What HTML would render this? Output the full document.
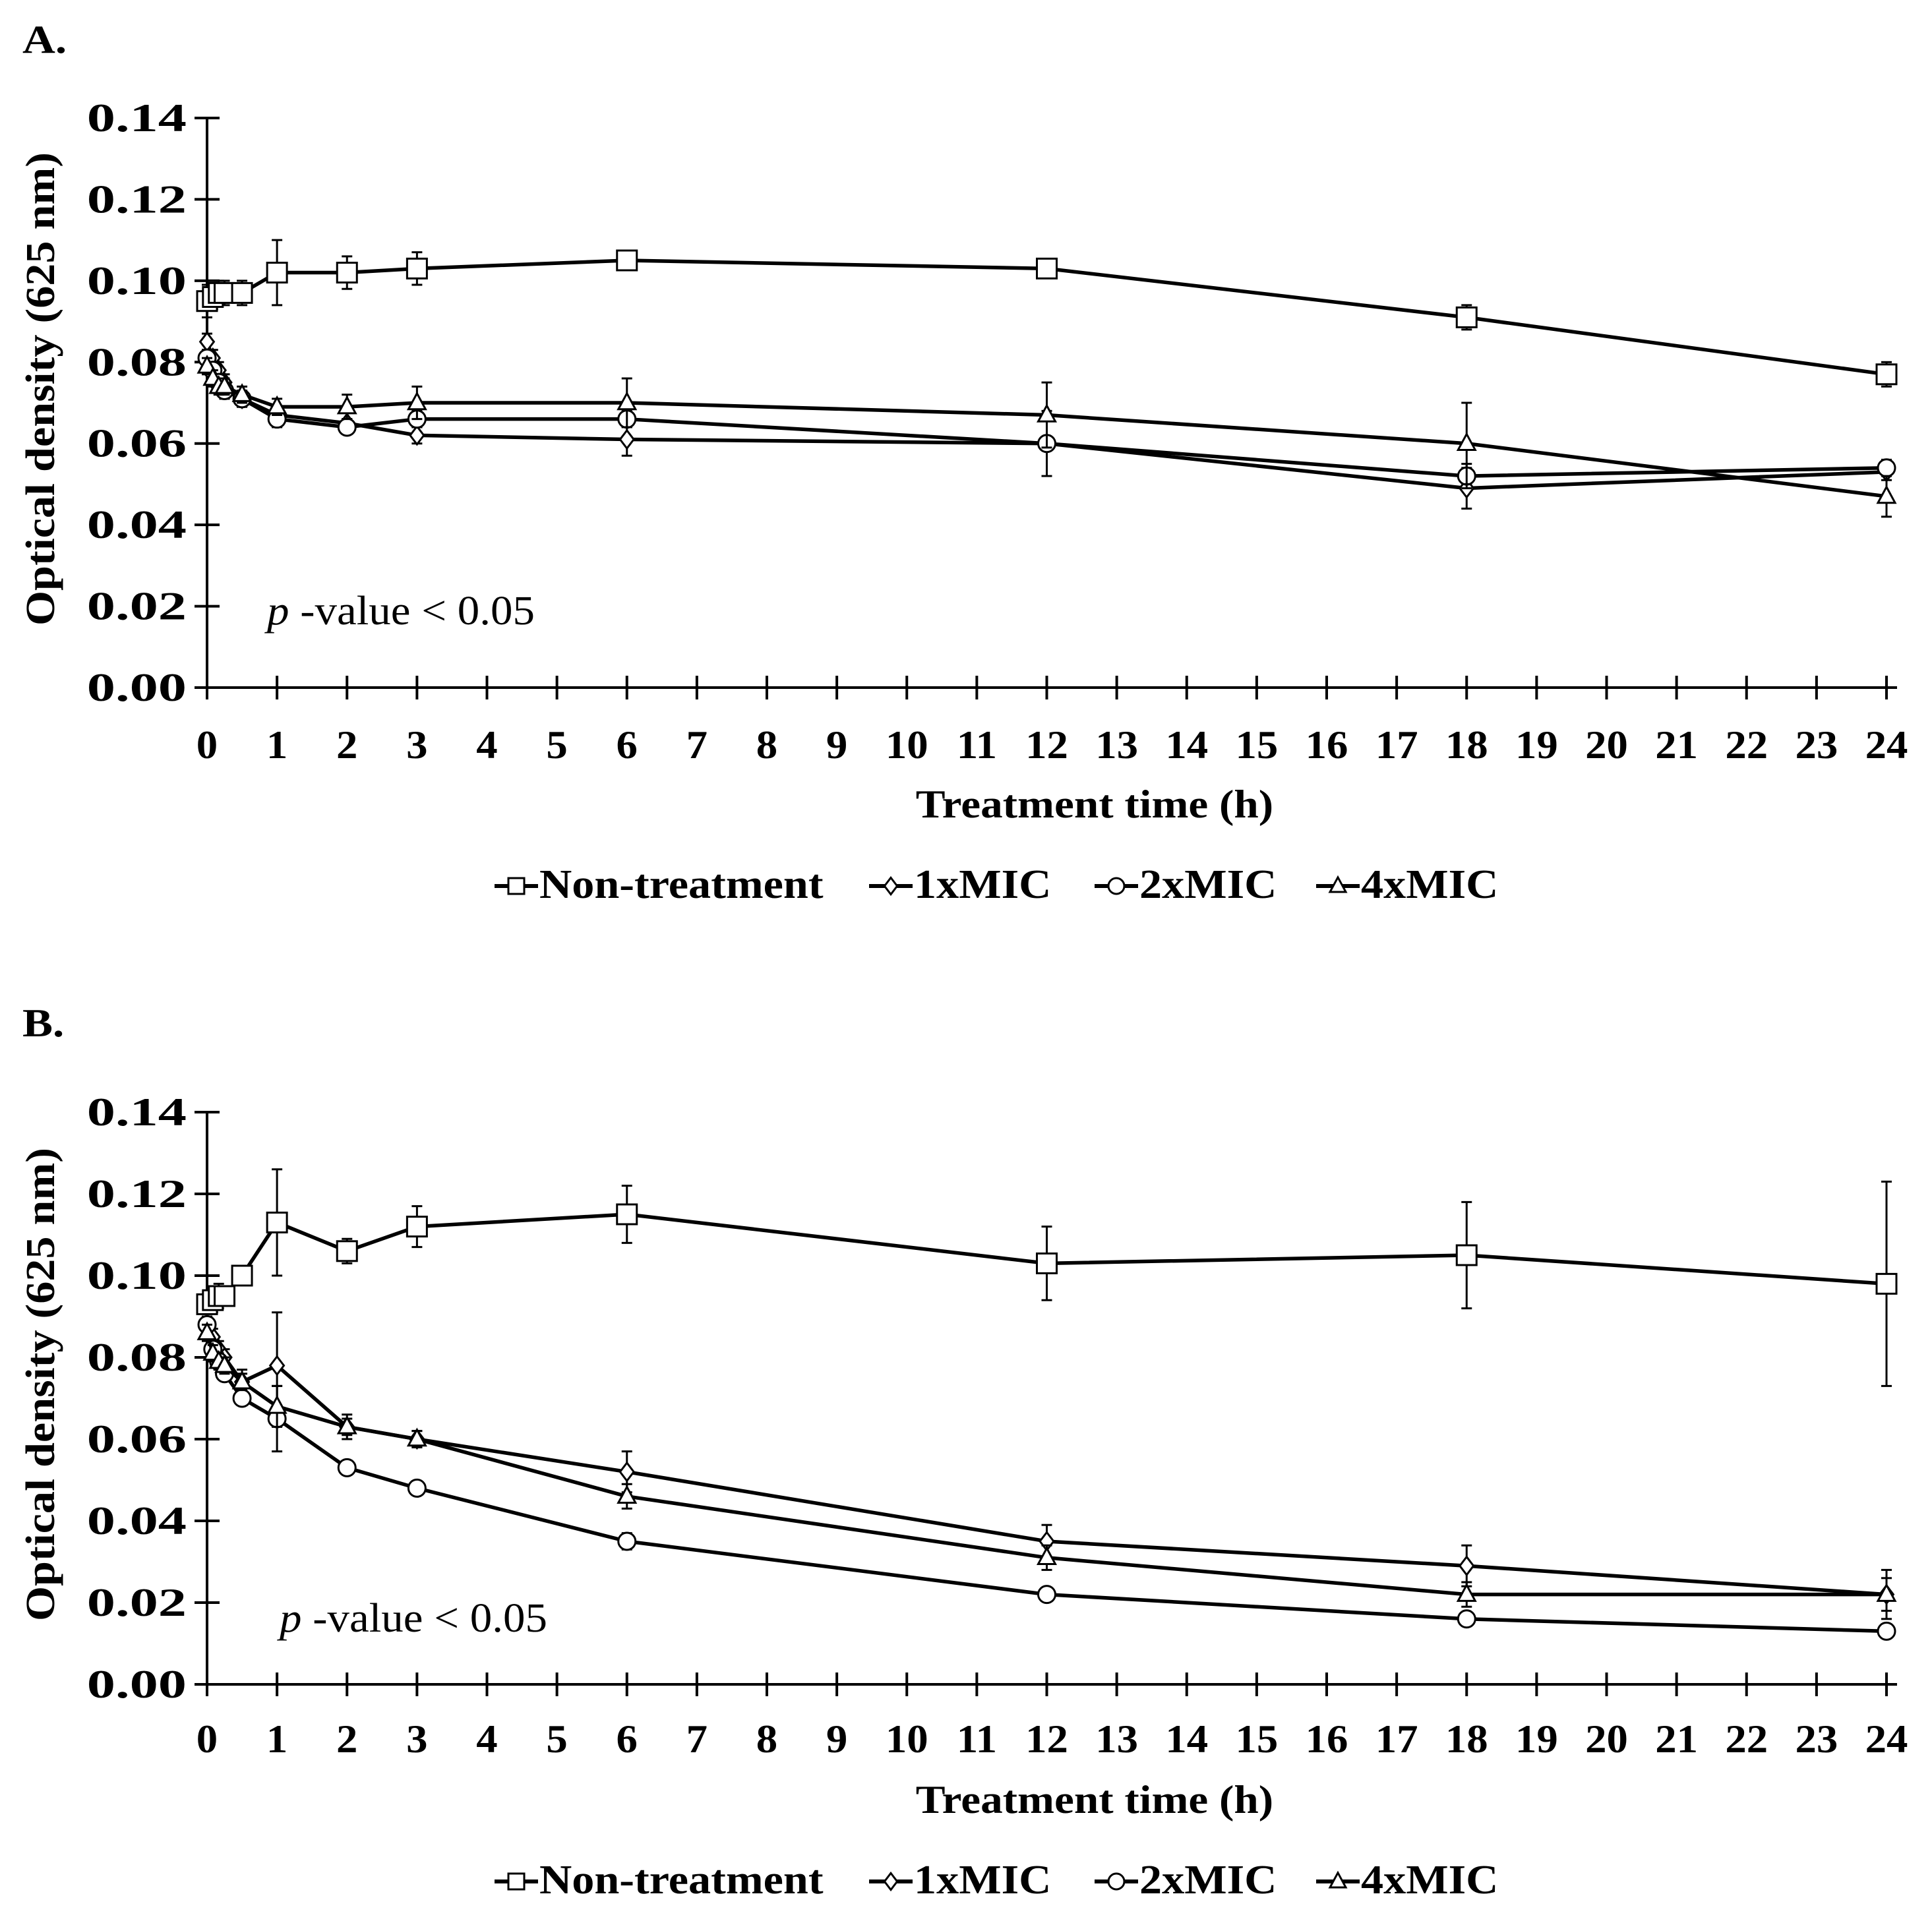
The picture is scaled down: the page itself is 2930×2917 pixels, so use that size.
<!DOCTYPE html>
<html><head><meta charset="utf-8"><style>
html,body{margin:0;padding:0;background:#fff;}
svg{display:block;}
text{font-family:"Liberation Serif",serif;fill:#000;}
.b{font-weight:bold;}
</style></head><body>
<svg id="chart" width="2930" height="2917" viewBox="0 0 2930 2917" xmlns="http://www.w3.org/2000/svg"></svg>
<script>
const times = [0, 0.083, 0.167, 0.25, 0.5, 1, 2, 3, 6, 12, 18, 24];
const yTicks = ["0.00","0.02","0.04","0.06","0.08","0.10","0.12","0.14"];
const xTicks = [0,1,2,3,4,5,6,7,8,9,10,11,12,13,14,15,16,17,18,19,20,21,22,23,24];
const seriesNames = ["Non-treatment","1xMIC","2xMIC","4xMIC"];
const markers = ["square","diamond","circle","triangle"];
// Panel A
const aNon = [0.095,0.096,0.097,0.097,0.097,0.102,0.102,0.103,0.105,0.103,0.091,0.077];
const aNonErr = [0.004,0.003,0.003,0.003,0.003,0.008,0.004,0.004,0.001,0.001,0.003,0.003];
const a1x = [0.085,0.081,0.078,0.075,0.071,0.067,0.065,0.062,0.061,0.060,0.049,0.053];
const a1xErr = [0.002,0.002,0.002,0.002,0.002,0.002,0.001,0.002,0.004,0.001,0.005,0.002];
const a2x = [0.081,0.078,0.075,0.073,0.071,0.066,0.064,0.066,0.066,0.060,0.052,0.054];
const a2xErr = [0.002,0.002,0.002,0.002,0.002,0.002,0.001,0.002,0.002,0.008,0.003,0.002];
const a4x = [0.079,0.076,0.074,0.074,0.072,0.069,0.069,0.070,0.070,0.067,0.060,0.047];
const a4xErr = [0.002,0.002,0.002,0.002,0.002,0.002,0.003,0.004,0.006,0.008,0.010,0.005];
// Panel B
const bNon = [0.093,0.094,0.095,0.095,0.100,0.113,0.106,0.112,0.115,0.103,0.105,0.098];
const bNonErr = [0.002,0.003,0.003,0.002,0.002,0.013,0.003,0.005,0.007,0.009,0.013,0.025];
const b1x = [0.088,0.085,0.082,0.080,0.074,0.078,0.063,0.060,0.052,0.035,0.029,0.022];
const b1xErr = [0.002,0.002,0.002,0.002,0.003,0.013,0.002,0.002,0.005,0.004,0.005,0.006];
const b2x = [0.088,0.082,0.079,0.076,0.070,0.065,0.053,0.048,0.035,0.022,0.016,0.013];
const b2xErr = [0.001,0.001,0.001,0.001,0.001,0.008,0.001,0.001,0.002,0.001,0.001,0.001];
const b4x = [0.086,0.081,0.079,0.078,0.074,0.068,0.063,0.060,0.046,0.031,0.022,0.022];
const b4xErr = [0.002,0.002,0.002,0.002,0.002,0.005,0.003,0.002,0.003,0.003,0.003,0.004];

const NS="http://www.w3.org/2000/svg";
const svg=document.getElementById('chart');
function mk(tag,attrs,parent){const e=document.createElementNS(NS,tag);for(const k in attrs)e.setAttribute(k,attrs[k]);(parent||svg).appendChild(e);return e;}
function stretch(el,f){try{const l=el.getComputedTextLength();if(l>0){el.setAttribute('textLength',l*f);el.setAttribute('lengthAdjust','spacingAndGlyphs');}}catch(e){}}

function marker(g,type,cx,cy,s){
  let e;
  if(type==="square") e=mk('rect',{x:cx-s,y:cy-s,width:2*s,height:2*s},g);
  else if(type==="diamond") e=mk('polygon',{points:`${cx},${cy-s*1.05} ${cx+s*0.8},${cy} ${cx},${cy+s*1.05} ${cx-s*0.8},${cy}`},g);
  else if(type==="circle") e=mk('circle',{cx:cx,cy:cy,r:s},g);
  else e=mk('polygon',{points:`${cx},${cy-s*1.1} ${cx+s},${cy+s*0.75} ${cx-s},${cy+s*0.75}`},g);
  e.setAttribute('fill','#fff');e.setAttribute('stroke','#000');e.setAttribute('stroke-width','3');
  return e;
}

function panel(id,label,labelY,top,bottom,series,errs,pPos,xlabY,titleY,legY){
  const left=314,right=2861;
  const xs=t=>left+(right-left)*t/24;
  const ys=v=>bottom-(bottom-top)*v/0.14;
  const g=mk('g',{});
  
  const pl=mk('text',{x:34,y:labelY,'font-size':60,class:'b'},g);pl.textContent=label;
  
  stretch(pl,1.15);
  const ax=mk('g',{stroke:'#000','stroke-width':4},g);
  
  mk('line',{x1:left,y1:top,x2:left,y2:bottom},ax);
  mk('line',{x1:left-19,y1:bottom,x2:right+16,y2:bottom},ax);
  yTicks.forEach((t,i)=>{const v=parseFloat(t);const y=ys(v);
    mk('line',{x1:left-19,y1:y,x2:left+19,y2:y},ax);
    const tx=mk('text',{x:283,y:y+20,'font-size':60,'text-anchor':'end',class:'b',stroke:'none'},g);tx.textContent=t;
    
    stretch(tx,1.44);});
  xTicks.forEach(t=>{const x=xs(t);
    mk('line',{x1:x,y1:bottom-18,x2:x,y2:bottom+18},ax);
    const tx=mk('text',{x:x,y:xlabY,'font-size':60,'text-anchor':'middle',class:'b'},g);tx.textContent=t;
    
    stretch(tx,1.08);});
  const yt=mk('text',{x:0,y:0,'font-size':62,'text-anchor':'middle',class:'b',transform:`translate(82,${(top+bottom)/2-21}) rotate(-90)`},g);
  yt.textContent="Optical density (625 nm)";
  
  stretch(yt,1.1);
  const xt=mk('text',{x:1660,y:titleY,'font-size':60,'text-anchor':'middle',class:'b'},g);
  xt.textContent="Treatment time (h)";
  
  stretch(xt,1.12);
  const pv=mk('text',{x:pPos[0],y:pPos[1],'font-size':62},g);
  pv.innerHTML='<tspan font-style="italic">p</tspan> -value &lt; 0.05';
  
  stretch(pv,1.08);
  series.forEach((vals,si)=>{
    const sg=mk('g',{},g);
    
    const eb=mk('g',{stroke:'#000','stroke-width':3},sg);
    vals.forEach((v,i)=>{const x=xs(times[i]),e=errs[si][i];
      mk('line',{x1:x,y1:ys(v-e),x2:x,y2:ys(v+e)},eb);
      mk('line',{x1:x-8,y1:ys(v+e),x2:x+8,y2:ys(v+e)},eb);
      mk('line',{x1:x-8,y1:ys(v-e),x2:x+8,y2:ys(v-e)},eb);});
    const pts=vals.map((v,i)=>xs(times[i])+','+ys(v)).join(' ');
    const pl2=mk('polyline',{points:pts,fill:'none',stroke:'#000','stroke-width':5.5,'stroke-linejoin':'round'},sg);
    
    vals.forEach((v,i)=>{const m=marker(sg,markers[si],xs(times[i]),ys(v),si===0?15:13);
      });
  });
  const lg=mk('g',{},g);
  
  const lx=[750,1318,1660,1996];
  seriesNames.forEach((n,i)=>{
    const eg=mk('g',{},lg);
    
    mk('line',{x1:lx[i],y1:legY-18,x2:lx[i]+66,y2:legY-18,stroke:'#000','stroke-width':6},eg);
    marker(eg,markers[i],lx[i]+33,legY-18,12);
    const t=mk('text',{x:lx[i]+68,y:legY,'font-size':62,class:'b'},eg);t.textContent=n;
    stretch(t,1.1);
  });
}
panel('a','A.',80,179,1043,[aNon,a1x,a2x,a4x],[aNonErr,a1xErr,a2xErr,a4xErr],[405,947],1150,1240,1362);
panel('b','B.',1572,1687,2555,[bNon,b1x,b2x,b4x],[bNonErr,b1xErr,b2xErr,b4xErr],[424,2475],2658,2750,2872);
</script>
</body></html>
